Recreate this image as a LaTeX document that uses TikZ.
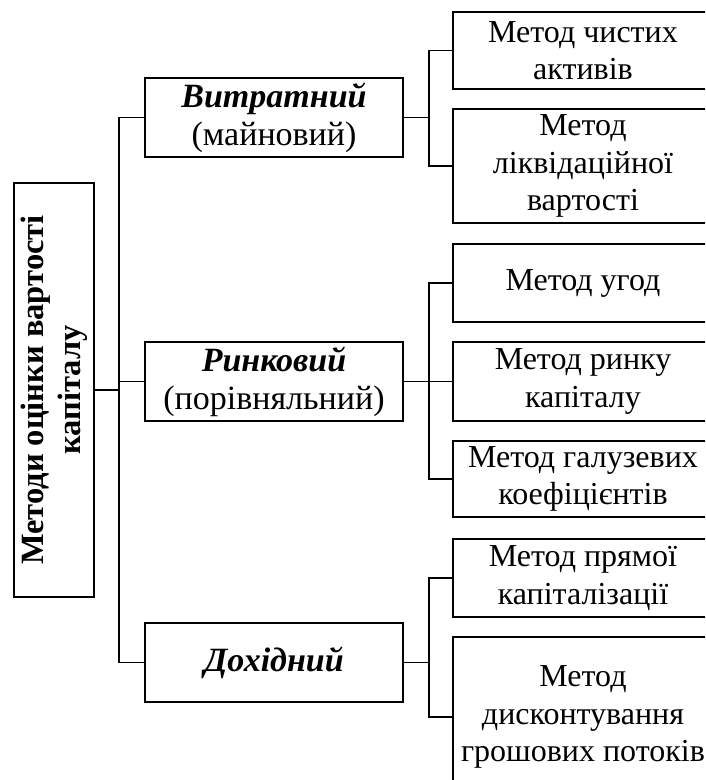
\documentclass[tikz,border=0pt]{standalone}
\usepackage{fontspec}
\setmainfont{Liberation Serif}
\begin{document}
\begin{tikzpicture}[x=1pt,y=-1pt,
  box/.style={draw, line width=1.6pt, inner sep=0pt, align=center, font=\fontsize{32pt}{37.5pt}\selectfont},
  midbox/.style={box, minimum width=258pt, minimum height=79pt, font=\fontsize{34pt}{38pt}\selectfont},
  rbox/.style={box, minimum width=260pt},
  conn/.style={line width=1.6pt}]
\clip (0,0) rectangle (705,780);
\useasboundingbox (0,0) rectangle (705,780);
% left box
\node[box, minimum width=80pt, minimum height=414pt, font=\fontsize{32.5pt}{37pt}\selectfont] (L) at (54,390)
  {\rotatebox{90}{\parbox{400pt}{\centering\bfseries Методи оцінки вартості\\капіталу}}};
% middle boxes
\node[midbox] (V) at (274,117.5) {\textbf{\textit{Витратний}}\\(майновий)};
\node[midbox] (R) at (274,381.5) {\textbf{\textit{Ринковий}}\\(порівняльний)};
\node[midbox] (D) at (274,662.5) {\textbf{\textit{Дохідний}}};
% right boxes
\node[rbox, minimum height=77pt] (A1) at (583,50.5) {Метод чистих\\активів};
\node[rbox, minimum height=114pt] (A2) at (583,166) {Метод\\ліквідаційної\\вартості};
\node[rbox, minimum height=78pt] (B1) at (583,283) {Метод угод};
\node[rbox, minimum height=79pt] (B2) at (583,381.5) {Метод ринку\\капіталу};
\node[rbox, minimum height=76pt] (B3) at (583,479) {Метод галузевих\\коефіцієнтів};
\node[rbox, minimum height=78pt] (C1) at (583,578) {Метод прямої\\капіталізації};
\node[rbox, minimum height=160pt] (C2) at (583,717) {Метод\\дисконтування\\грошових потоків};
% connectors
\coordinate (T) at (119,0);
\coordinate (Bx) at (429,0);
\draw[conn] (L.east) -- (L.east -| T);
\draw[conn] (V.west) -- (V.west -| T) -- (D.west -| T) -- (D.west);
\draw[conn] (R.west) -- (R.west -| T);
\draw[conn] (V.east) -- (V.east -| Bx);
\draw[conn] (A1.west) -- (A1.west -| Bx) -- (A2.west -| Bx) -- (A2.west);
\draw[conn] (R.east) -- (B2.west);
\draw[conn] (B1.west) -- (B1.west -| Bx) -- (B3.west -| Bx) -- (B3.west);
\draw[conn] (D.east) -- (D.east -| Bx);
\draw[conn] (C1.west) -- (C1.west -| Bx) -- (C2.west -| Bx) -- (C2.west);
\end{tikzpicture}
\end{document}
